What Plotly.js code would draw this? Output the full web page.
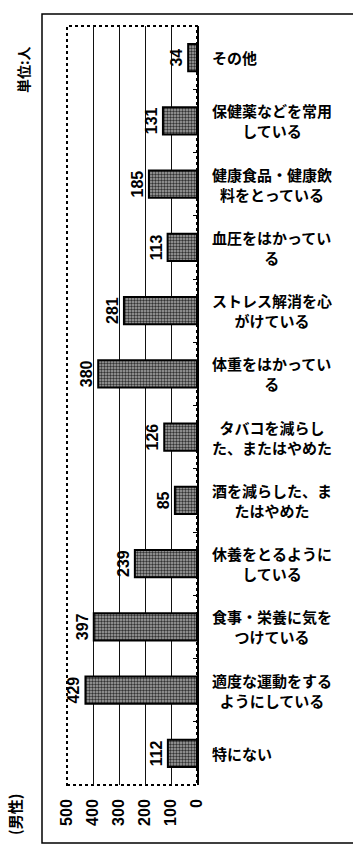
<!DOCTYPE html>
<html>
<head>
<meta charset="utf-8">
<script src="https://cdn.plot.ly/plotly-3.0.1.min.js"></script>
<style>
  body { margin: 0; background: #fff; }
  #chart { width: 353px; height: 849px; }
</style>
</head>
<body>
<div id="chart"></div>
<script>
// 健康のために心がけていること(男性) 単位:人
// 下から上の順
const categories = [
    '特にない',
    '適度な運動をする<br>ようにしている',
    '食事・栄養に気を<br>つけている',
    '休養をとるように<br>している',
    '酒を減らした、ま<br>たはやめた',
    'タバコを減らし<br>た、またはやめた',
    '体重をはかってい<br>る',
    'ストレス解消を心<br>がけている',
    '血圧をはかってい<br>る',
    '健康食品・健康飲<br>料をとっている',
    '保健薬などを常用<br>している',
    'その他'
];
const values = [112, 429, 397, 239, 85, 126, 380, 281, 113, 185, 131, 34];
const tickValues = [0, 100, 200, 300, 400, 500];

// プロット領域 (px)
const plotL = 67, plotR = 197, plotT = 26, plotB = 785;
const W = 353, H = 849;
const px2x = p => (p - plotL) / (plotR - plotL);
const px2y = p => (plotB - p) / (plotB - plotT);

const numFont = { family: 'Liberation Sans, Arial, sans-serif', size: 16, color: '#000', weight: 'bold' };
const jpFont = { family: 'Noto Sans CJK JP, sans-serif', size: 15, color: '#000', weight: 'bold' };

const trace = {
    type: 'bar',
    orientation: 'h',
    x: values,
    y: categories,
    text: values.map(String),
    textposition: 'outside',
    textangle: -90,
    constraintext: 'none',
    cliponaxis: false,
    textfont: { family: 'Liberation Sans, Arial, sans-serif', size: 16, color: '#000', weight: 'bold' },
    marker: {
        color: '#808080',
        line: { color: '#000', width: 2 },
        pattern: { shape: '.', size: 3, solidity: 0.5, fgcolor: '#333', bgcolor: '#a8a8a8' }
    },
    hoverinfo: 'none'
};

// 項目ラベル (行は中央揃え)
const annotations = categories.map(c => ({
    xref: 'paper', yref: 'y',
    x: px2x(210), y: c,
    xanchor: 'left', yanchor: 'middle', align: 'center',
    text: c, showarrow: false, font: jpFont
}));

annotations.push({
    xref: 'paper', yref: 'paper', x: px2x(14), y: px2y(815),
    xanchor: 'center', yanchor: 'middle',
    text: '(男性)', textangle: -90, showarrow: false,
    font: { family: 'Noto Sans CJK JP, sans-serif', size: 15, color: '#000', weight: 'bold' }
});
annotations.push({
    xref: 'paper', yref: 'paper', x: px2x(23), y: px2y(70),
    xanchor: 'center', yanchor: 'middle',
    text: '単位:人', textangle: -90, showarrow: false,
    font: { family: 'Noto Sans CJK JP, sans-serif', size: 14, color: '#000', weight: 'bold' }
});

const layout = {
    width: W, height: H,
    margin: { l: plotL, r: W - plotR, t: plotT, b: H - plotB, pad: 0 },
    paper_bgcolor: '#fff',
    plot_bgcolor: '#fff',
    showlegend: false,
    bargap: 0.57,
    font: numFont,
    xaxis: {
        range: [500, 0],
        tickvals: tickValues,
        ticktext: tickValues.map(String),
        tickangle: -90,
        ticks: '',
        ticklabelstandoff: 10,
        tickfont: numFont,
        showgrid: true,
        gridcolor: '#111',
        gridwidth: 1,
        zeroline: false,
        showline: false,
        fixedrange: true
    },
    yaxis: {
        side: 'right',
        type: 'category',
        showticklabels: false,
        showgrid: false,
        ticks: 'inside',
        tickson: 'boundaries',
        ticklen: 4,
        tickcolor: '#000',
        showline: true,
        linecolor: '#000',
        linewidth: 2,
        zeroline: false,
        fixedrange: true
    },
    shapes: [
        // 外枠
        { type: 'rect', xref: 'paper', yref: 'paper', x0: px2x(42), x1: px2x(400), y0: px2y(843), y1: px2y(14),
          line: { color: '#000', width: 1.5 }, layer: 'below' },
        // プロット枠 (点線)
        { type: 'rect', xref: 'paper', yref: 'paper', x0: 0, x1: 1, y0: 0, y1: 1,
          line: { color: '#000', width: 2, dash: 'dot' }, layer: 'below' }
    ],
    annotations: annotations
};

Plotly.newPlot('chart', [trace], layout, { displayModeBar: false, staticPlot: true });
</script>
</body>
</html>
